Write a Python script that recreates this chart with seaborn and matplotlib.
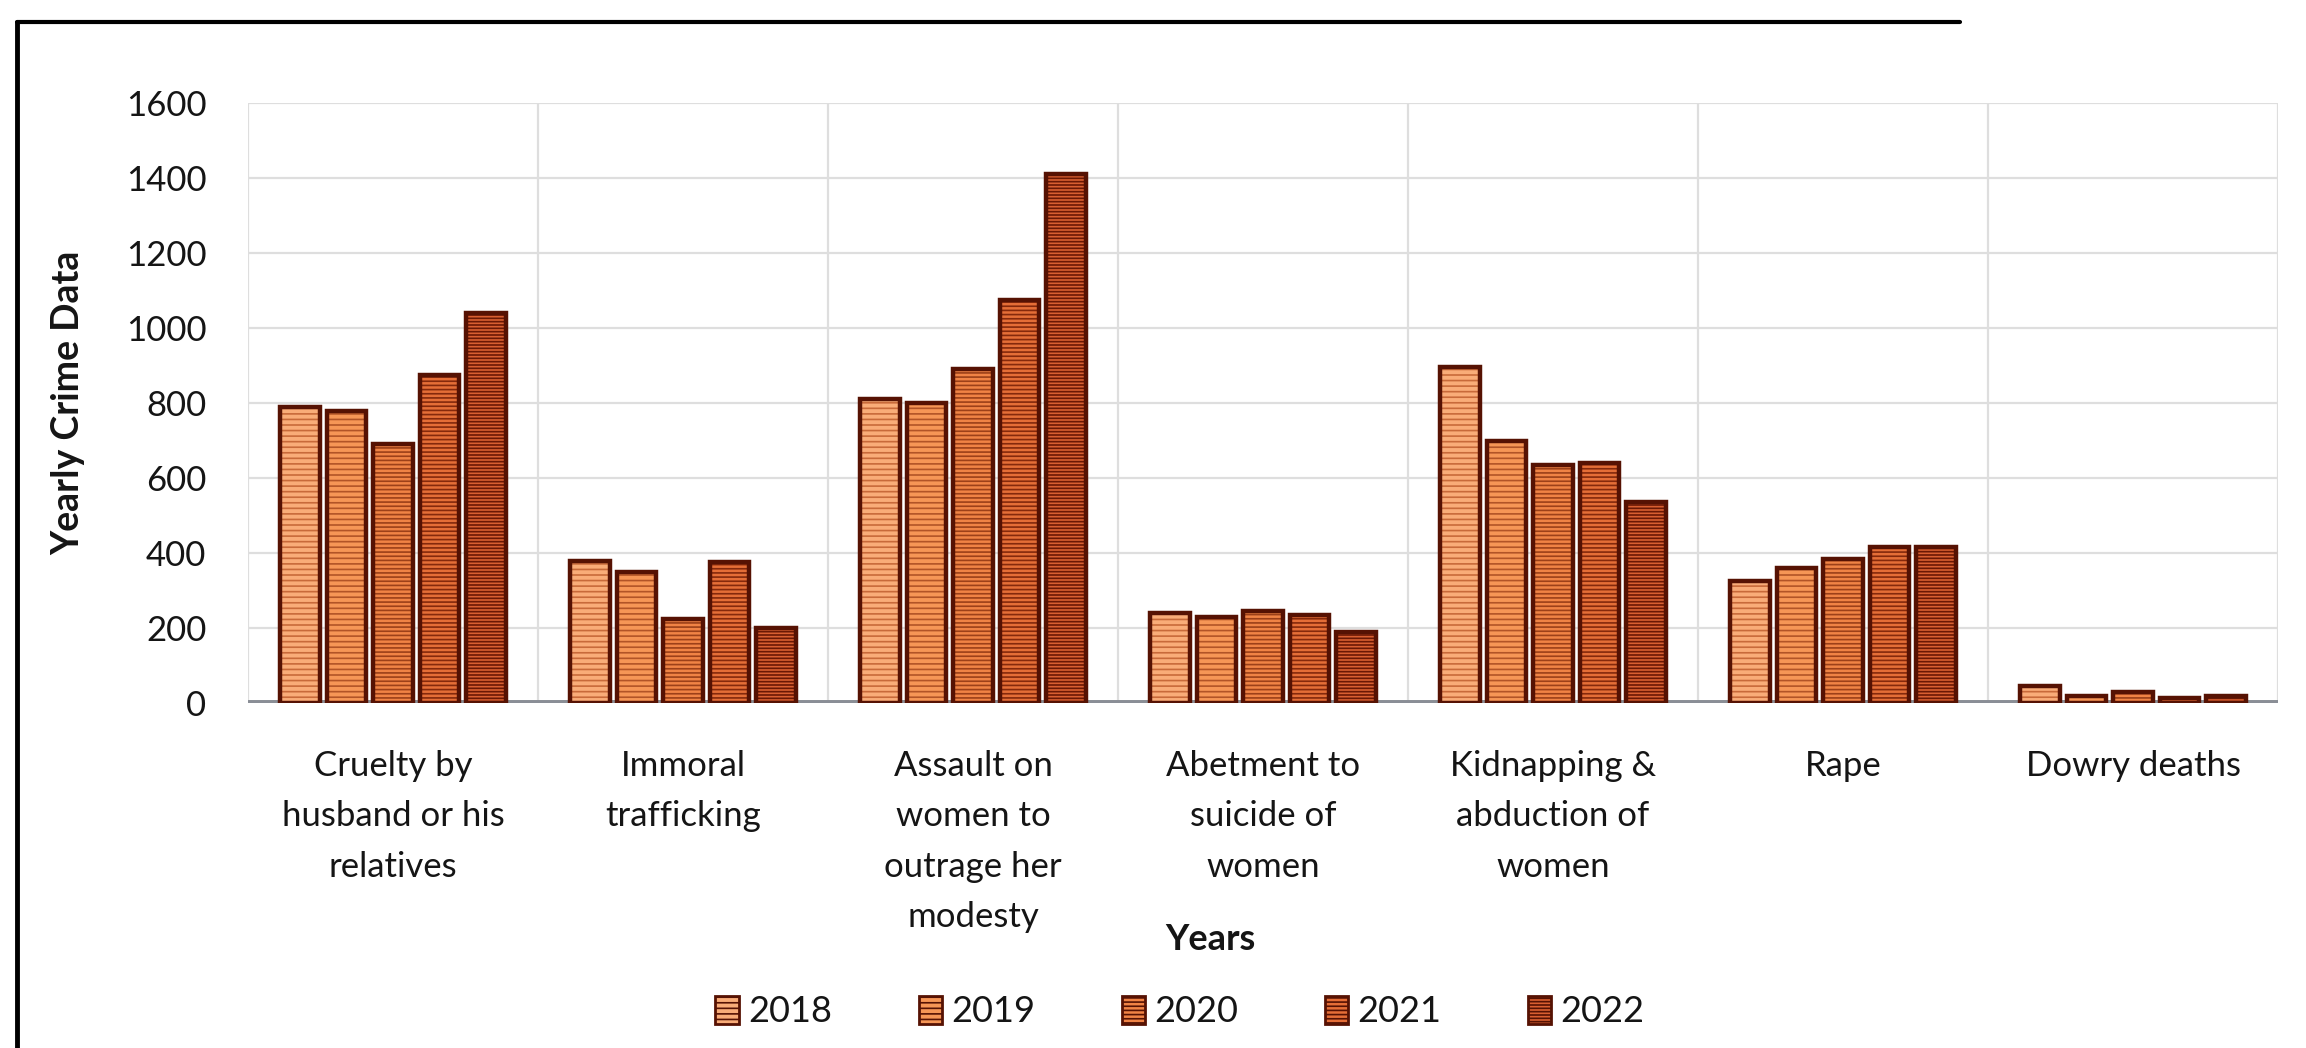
import numpy as np
import pandas as pd
import matplotlib
matplotlib.use("Agg")
import matplotlib.pyplot as plt
import seaborn as sns
from matplotlib.patches import Patch, Rectangle
from matplotlib.lines import Line2D

# ---------------- data ----------------
categories = ["Cruelty by\nhusband or his\nrelatives", "Immoral\ntrafficking",
              "Assault on\nwomen to\noutrage her\nmodesty", "Abetment to\nsuicide of\nwomen",
              "Kidnapping &\nabduction of\nwomen", "Rape", "Dowry deaths"]
years = ["2018", "2019", "2020", "2021", "2022"]
v2018 = [790, 380, 810, 240, 895, 325, 45]
v2019 = [780, 350, 800, 230, 700, 360, 18]
v2020 = [690, 225, 890, 245, 635, 385, 30]
v2021 = [875, 375, 1075, 235, 640, 415, 13]
v2022 = [1040, 200, 1410, 190, 535, 415, 18]
yticks = [0, 200, 400, 600, 800, 1000, 1200, 1400, 1600]

# ---------------- style ----------------
face_colors = ["#F9AC78", "#F69656", "#F08345", "#E56E37", "#D85F31"]
hatch_colors = ["#C86A3A", "#B25427", "#9C4019", "#85290C", "#6A1804"]
hatches = ["---", "---", "----", "----", "-----"]
outline = "#561203"

sns.set_style("white")
plt.rcParams["font.family"] = ["Lato", "DejaVu Sans"]
plt.rcParams["hatch.linewidth"] = 1.2
text_color = "#151515"

values = [v2018, v2019, v2020, v2021, v2022]
rows = []
for y, vals in zip(years, values):
    for c, v in zip(categories, vals):
        rows.append({"category": c, "year": y, "value": v})
df = pd.DataFrame(rows)

W, H = 2306, 1048
fig = plt.figure(figsize=(W / 100, H / 100), dpi=100)
ax = fig.add_axes([248 / W, 1 - 703 / H, (2278 - 248) / W, (703 - 103) / H])

sns.barplot(data=df, x="category", y="value", hue="year", order=categories,
            hue_order=years, palette=face_colors, saturation=1, width=0.8,
            gap=0.15, legend=False, ax=ax, linewidth=0)

for i, cont in enumerate(ax.containers):
    for p in cont.patches:
        p.set_hatch(hatches[i])
        p.set_edgecolor(hatch_colors[i])
        p.set_linewidth(0)
        ax.add_patch(Rectangle((p.get_x(), p.get_y()), p.get_width(), p.get_height(),
                               fill=False, edgecolor=outline, lw=3.2,
                               zorder=p.get_zorder() + 0.1))

ax.set_xlim(-0.5, len(categories) - 0.5)
ax.set_ylim(0, 1600)
ax.set_yticks(yticks)
ax.set_yticklabels([str(t) for t in yticks])
ax.set_xticks(np.arange(-0.5, len(categories), 1), minor=True)
ax.set_axisbelow(True)
ax.grid(False)
ax.yaxis.grid(True, which="major", color="#dedede", lw=1.6)
ax.xaxis.grid(True, which="minor", color="#dedede", lw=1.6)
ax.axhline(0, color="#8a8e96", lw=5, zorder=0.9)
for s in ax.spines.values():
    s.set_visible(False)

ax.tick_params(axis="y", length=0, pad=30, labelsize=25, labelcolor=text_color)
ax.tick_params(axis="x", which="both", length=0, pad=34, labelsize=25, labelcolor=text_color)
for lab in ax.get_xticklabels():
    lab.set_linespacing(1.7)

ax.set_xlabel("")
ax.set_ylabel("Yearly Crime Data", fontsize=27, fontweight="bold", color=text_color)
ax.yaxis.set_label_coords(-0.08, 0.5)

fig.text(1210 / W, 1 - 939 / H, "Years", ha="center", va="center", fontsize=26,
         fontweight="bold", color=text_color)

handles = [Patch(facecolor=fc, edgecolor=outline, hatch=h, lw=2)
           for fc, h in zip(face_colors, hatches)]
fig.legend(handles, years, loc="center", bbox_to_anchor=(1180 / W, 1 - 1012 / H),
           ncol=5, frameon=False, fontsize=26, handlelength=0.65, handleheight=0.8,
           handletextpad=0.25, columnspacing=2.4, labelcolor=text_color)

# outer frame (left and top border)
fig.add_artist(Line2D([17 / W, 17 / W], [0, 1 - 22 / H], color="black", lw=3.5,
                      transform=fig.transFigure))
fig.add_artist(Line2D([17 / W, 1960 / W], [1 - 22 / H, 1 - 22 / H], color="black", lw=3,
                      transform=fig.transFigure))

fig.savefig("out.png", dpi=100, facecolor="white")
